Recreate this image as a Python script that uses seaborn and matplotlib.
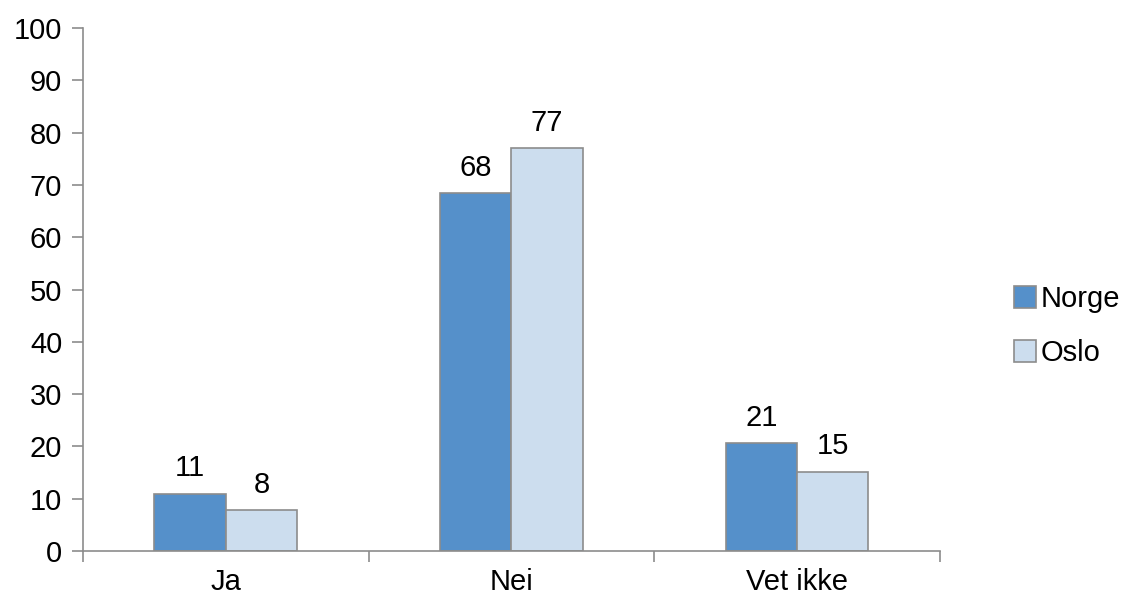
import pandas as pd
import seaborn as sns
import matplotlib.pyplot as plt

# data
categories = ["Ja", "Nei", "Vet ikke"]
norge = [11.0, 68.4, 20.7]
oslo = [7.8, 77.0, 15.2]
norge_labels = ["11", "68", "21"]
oslo_labels = ["8", "77", "15"]

df = pd.DataFrame({
    "kategori": categories * 2,
    "verdi": norge + oslo,
    "serie": ["Norge"] * 3 + ["Oslo"] * 3,
})

sns.set_style("white")
plt.rcParams['font.family'] = ['Liberation Sans', 'DejaVu Sans']

FS = 21

fig = plt.figure(figsize=(11.29, 5.97), dpi=100)
ax = fig.add_axes([0.0735, 0.077, 0.759, 0.876])

palette = {"Norge": "#5590CA", "Oslo": "#CCDDEE"}
sns.barplot(data=df, x="kategori", y="verdi", hue="serie", palette=palette,
            width=0.5, gap=0, edgecolor="#8C8C8C", linewidth=1.2,
            saturation=1, ax=ax)

for cont, labs in zip(ax.containers, [norge_labels, oslo_labels]):
    ax.bar_label(cont, labels=labs, padding=8, fontsize=FS, color="black")

ax.set_ylim(0, 100)
ax.set_yticks(range(0, 101, 10))
ax.set_xlim(-0.5, 2.5)
ax.set_xlabel("")
ax.set_ylabel("")

# category boundary ticks on x axis
ax.set_xticks([-0.5, 0.5, 1.5, 2.5], minor=True)
ax.tick_params(axis="x", which="major", bottom=False, labelsize=FS, pad=9, labelcolor="black")
ax.tick_params(axis="x", which="minor", bottom=True, length=8, color="#8C8C8C", width=1.2, direction="out")
ax.tick_params(axis="y", left=True, length=8, color="#8C8C8C", width=1.2, direction="out",
               labelsize=FS, pad=7, labelcolor="black")

for s in ["top", "right"]:
    ax.spines[s].set_visible(False)
for s in ["left", "bottom"]:
    ax.spines[s].set_color("#8C8C8C")
    ax.spines[s].set_linewidth(1.2)

ax.legend(loc="center left", bbox_to_anchor=(1.07, 0.43), frameon=False,
          fontsize=FS, handlelength=0.75, handleheight=0.75, handletextpad=0.15,
          labelspacing=0.9, borderpad=0, labelcolor="black")

fig.savefig("out.png", dpi=100)
